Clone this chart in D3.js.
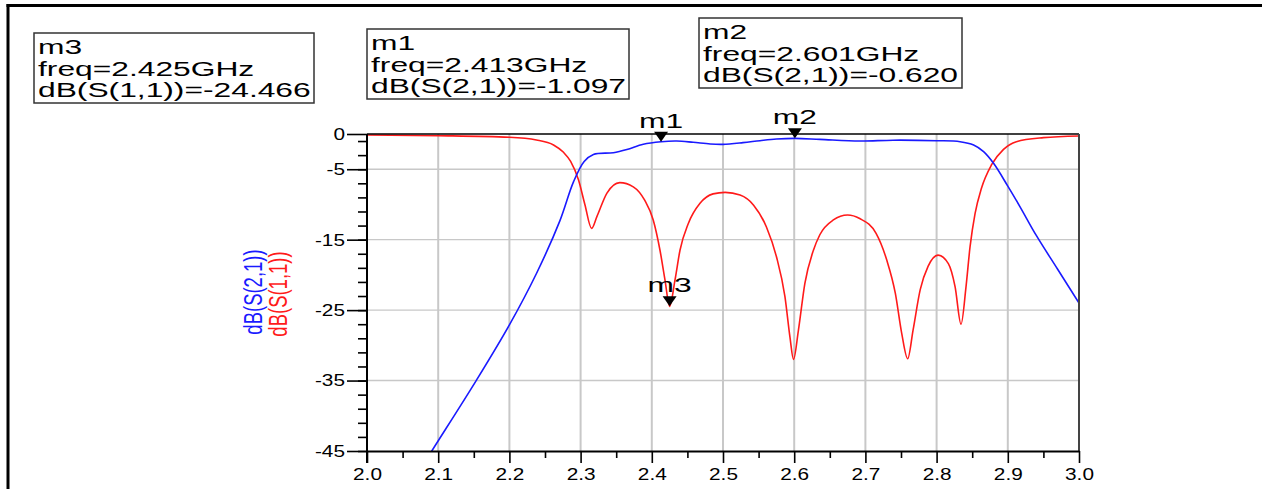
<!DOCTYPE html>
<html lang="en">
<head>
<meta charset="UTF-8">
<title>S-parameters</title>
<style>
  body { margin: 0; background: #fff; }
  text { font-family: 'Liberation Sans', Arial, sans-serif; }
  .tick line { stroke: #000; stroke-width: 1.6; }
  .domain { stroke: #000; stroke-width: 2; }
</style>
</head>
<body>
<svg width="1262" height="489"></svg>
<script src="https://cdn.jsdelivr.net/npm/d3@7/dist/d3.min.js"></script>
<script>
// dB(S(2,1)) trace
var freqS21 = [2.07, 2.091, 2.154, 2.2, 2.238, 2.271, 2.29, 2.305, 2.318, 2.346, 2.365, 2.388, 2.413,
  2.435, 2.458, 2.482, 2.5, 2.528, 2.552, 2.575, 2.601, 2.636, 2.692, 2.739, 2.8, 2.833, 2.852, 2.866,
  2.88, 2.9, 2.917, 2.94, 2.97, 3.0]
var dbS21 = [-48.4, -45.0, -34.9, -27.1, -19.8, -12.3, -6.8, -3.9, -2.9, -2.65, -2.2, -1.45, -1.097,
  -1.0, -1.18, -1.42, -1.47, -1.23, -0.95, -0.72, -0.62, -0.76, -1.0, -0.88, -0.95, -1.09, -1.56, -2.5,
  -4.16, -7.4, -10.3, -14.4, -19.2, -24.0]

// dB(S(1,1)) trace
var freqS11 = [2.0, 2.1, 2.2, 2.238, 2.262, 2.276, 2.286, 2.297, 2.306, 2.3155, 2.323, 2.337, 2.355, 2.374,
  2.39, 2.402, 2.4115, 2.4185, 2.425, 2.4326, 2.4396, 2.4513, 2.4677, 2.486, 2.503, 2.524, 2.543, 2.561,
  2.575, 2.587, 2.594, 2.599, 2.606, 2.615, 2.627, 2.636, 2.655, 2.675, 2.692, 2.715, 2.73, 2.742, 2.751,
  2.7594, 2.767, 2.777, 2.788, 2.802, 2.8165, 2.826, 2.8343, 2.8413, 2.847, 2.854, 2.863, 2.877, 2.894,
  2.912, 2.95, 3.0]
var dbS11 = [-0.14, -0.24, -0.47, -0.85, -1.56, -2.6, -3.9, -6.5, -10.0, -13.4, -11.7, -8.4, -6.9, -7.5,
  -9.4, -12.2, -16.5, -20.7, -24.466, -20.7, -16.5, -12.7, -9.84, -8.5, -8.28, -8.66, -10.1, -13.2,
  -17.4, -23.1, -28.8, -32.0, -27.8, -21.2, -16.5, -14.3, -12.2, -11.5, -12.0, -14.1, -17.9, -22.6, -28.3,
  -31.9, -27.8, -22.1, -18.8, -17.2, -18.4, -21.7, -27.0, -21.7, -16.0, -11.3, -7.7, -4.4, -2.18,
  -1.09, -0.52, -0.28]

// markers
var markerNames = ['m1', 'm2', 'm3']
var markerFreq = [2.413, 2.601, 2.425]
var markerVal = [-1.097, -0.620, -24.466]
var markerTrace = ['dB(S(2,1))', 'dB(S(2,1))', 'dB(S(1,1))']

// ticks
var xTickLabels = ['2.0', '2.1', '2.2', '2.3', '2.4', '2.5', '2.6', '2.7', '2.8', '2.9', '3.0']
var yTickLabels = ['0', '-5', '-15', '-25', '-35', '-45']

// marker readout boxes (left, top, width)
var boxLayout = [[367, 29, 262], [699, 18, 263], [34, 33, 280]]

var svg = d3.select('svg')
var sx = 1.55   // the source picture is stretched sideways

var x = d3.scaleLinear().domain([2.0, 3.0]).range([367, 1079])
var y = d3.scaleLinear().domain([-45, 0]).range([451, 134])

var xMajor = xTickLabels.map(Number)
var xMinor = d3.range(2.05, 3.0, 0.1)
var yMajor = yTickLabels.map(Number)
var yMinor = d3.range(-1, -46, -2)

// outer frame of the picture
svg.append('line').attr('x1', 8).attr('x2', 8).attr('y1', 4).attr('y2', 489)
  .attr('stroke', '#000').attr('stroke-width', 3)
svg.append('line').attr('x1', 6.5).attr('x2', 1262).attr('y1', 5.5).attr('y2', 5.5)
  .attr('stroke', '#000').attr('stroke-width', 3)

// grid
svg.append('g').selectAll('line')
  .data(xMajor.slice(1, -1))
  .enter().append('line')
  .attr('x1', d => x(d)).attr('x2', d => x(d))
  .attr('y1', y(0)).attr('y2', y(-45))
  .attr('stroke', '#c8c8c8').attr('stroke-width', 2)
svg.append('g').selectAll('line')
  .data(yMajor.slice(1, -1))
  .enter().append('line')
  .attr('x1', x(2.0)).attr('x2', x(3.0))
  .attr('y1', d => y(d)).attr('y2', d => y(d))
  .attr('stroke', '#c8c8c8').attr('stroke-width', 1.4)

// traces
svg.append('clipPath').attr('id', 'plot')
  .append('rect').attr('x', x(2.0)).attr('y', y(0) - 2)
  .attr('width', x(3.0) - x(2.0)).attr('height', y(-45) - y(0) + 2)

var lineS11 = d3.line()
  .x(d => x(d[0]))
  .y(d => y(d[1]))
  .curve(d3.curveMonotoneX)

var lineS21 = d3.line()
  .x(d => x(d[0]))
  .y(d => y(d[1]))
  .curve(d3.curveCatmullRom.alpha(0.5))

svg.append('path')
  .datum(d3.zip(freqS11, dbS11))
  .attr('d', lineS11)
  .attr('clip-path', 'url(#plot)')
  .attr('fill', 'none').attr('stroke', '#ff1a1a').attr('stroke-width', 1.6)

svg.append('path')
  .datum(d3.zip(freqS21, dbS21))
  .attr('d', lineS21)
  .attr('clip-path', 'url(#plot)')
  .attr('fill', 'none').attr('stroke', '#1a1aff').attr('stroke-width', 1.6)

// plot frame top and right
svg.append('line').attr('x1', x(2.0)).attr('x2', x(3.0)).attr('y1', y(0)).attr('y2', y(0))
  .attr('stroke', '#000').attr('stroke-width', 1.6)
svg.append('line').attr('x1', x(3.0)).attr('x2', x(3.0)).attr('y1', y(0)).attr('y2', y(-45))
  .attr('stroke', '#444').attr('stroke-width', 2)

// x axis
var gx = svg.append('g')
  .attr('transform', 'translate(0,' + y(-45) + ')')
  .call(d3.axisBottom(x).tickValues(xMajor).tickSize(12).tickSizeOuter(0)
    .tickFormat((d, i) => xTickLabels[i]))
gx.selectAll('text')
  .attr('y', 29).attr('dy', 0)
  .attr('font-size', 16).attr('fill', '#000')
  .attr('transform', 'scale(1.3,1)')
svg.append('g')
  .attr('transform', 'translate(0,' + y(-45) + ')')
  .call(d3.axisBottom(x).tickValues(xMinor).tickSize(7).tickFormat(''))
  .select('.domain').remove()

// y axis
var gy = svg.append('g')
  .attr('transform', 'translate(' + x(2.0) + ',0)')
  .call(d3.axisLeft(y).tickValues(yMajor).tickSize(20).tickSizeOuter(0)
    .tickFormat((d, i) => yTickLabels[i]))
gy.select('.domain').attr('d', 'M0,' + y(0) + 'V' + (y(-45) + 12))
gy.selectAll('text')
  .attr('x', -22 / 1.3).attr('dy', '0.34em')
  .attr('font-size', 16).attr('fill', '#000')
  .attr('transform', 'scale(1.3,1)')
svg.append('g')
  .attr('transform', 'translate(' + x(2.0) + ',0)')
  .call(d3.axisLeft(y).tickValues(yMinor).tickSize(9).tickFormat(''))
  .select('.domain').remove()

// y axis titles
svg.append('text')
  .attr('transform', 'translate(262,292) scale(1.4,1) rotate(-90)')
  .attr('text-anchor', 'middle').attr('font-size', 18.5).attr('fill', '#1a1aff')
  .text('dB(S(2,1))')
svg.append('text')
  .attr('transform', 'translate(287,294) scale(1.4,1) rotate(-90)')
  .attr('text-anchor', 'middle').attr('font-size', 18.5).attr('fill', '#ff1a1a')
  .text('dB(S(1,1))')

// markers on the traces
markerNames.forEach(function(name, i) {
  var px = x(markerFreq[i])
  var py = y(markerVal[i])
  svg.append('path')
    .attr('d', 'M' + px + ',' + py + 'l-7,-10h14z')
    .attr('fill', '#000')
  svg.append('text')
    .attr('transform', 'translate(' + px + ',' + (py - 14) + ') scale(' + sx + ',1)')
    .attr('text-anchor', 'middle').attr('font-size', 20.5).attr('fill', '#000')
    .text(name)

  var b = boxLayout[i]
  svg.append('rect')
    .attr('x', b[0]).attr('y', b[1]).attr('width', b[2]).attr('height', 70)
    .attr('fill', 'none').attr('stroke', '#333').attr('stroke-width', 1.5)
  var lines = [name, 'freq=' + markerFreq[i].toFixed(3) + 'GHz',
    markerTrace[i] + '=' + markerVal[i].toFixed(3)]
  lines.forEach(function(t, k) {
    svg.append('text')
      .attr('transform', 'translate(' + (b[0] + 4) + ',' + (b[1] + 21 + k * 21.5) + ') scale(' + sx + ',1)')
      .attr('font-size', 20.5).attr('fill', '#000')
      .text(t)
  })
})
</script>
</body>
</html>
